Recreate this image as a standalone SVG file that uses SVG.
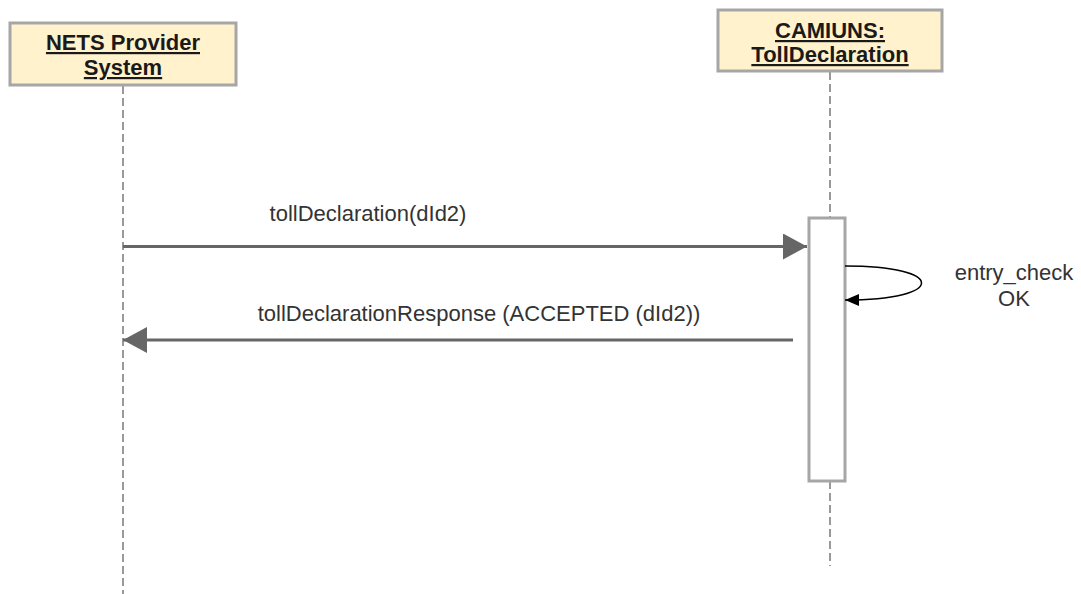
<svg xmlns="http://www.w3.org/2000/svg" width="1081" height="594" viewBox="0 0 1081 594">
  <defs>
    <style>
      .box { fill: #FFF2CC; stroke: #A6A6A6; stroke-width: 3; }
      .title { font-family: "Liberation Sans", Arial, sans-serif; font-size: 22px; font-weight: bold; fill: #1a1a1a; text-anchor: middle; text-decoration: underline; }
      .life { stroke: #999999; stroke-width: 2; stroke-dasharray: 8 4; fill: none; }
      .act { fill: #FFFFFF; stroke: #A6A6A6; stroke-width: 3; }
      .msg { stroke: #666666; stroke-width: 3; fill: none; }
      .lbl { font-family: "Liberation Sans", Arial, sans-serif; font-size: 22px; fill: #333333; text-anchor: middle; }
    </style>
    <marker id="tri" markerWidth="24" markerHeight="26" refX="24" refY="13" orient="auto" markerUnits="userSpaceOnUse">
      <path d="M0,0 L24,13 L0,26 Z" fill="#666666"/>
    </marker>
    <marker id="small" markerWidth="14" markerHeight="12" refX="14" refY="6" orient="auto" markerUnits="userSpaceOnUse">
      <path d="M0,0 L14,6 L0,12 Z" fill="#000000"/>
    </marker>
  </defs>

  <g id="lifelines">
    <line class="life" x1="123" y1="86" x2="123" y2="594"/>
    <line class="life" x1="830" y1="72" x2="830" y2="218"/>
    <line class="life" x1="830" y1="481" x2="830" y2="566"/>
  </g>

  <g id="nets-provider">
    <rect class="box" x="10" y="23" width="226" height="62"/>
    <text class="title" x="123" y="50">NETS Provider</text>
    <text class="title" x="123" y="75">System</text>
  </g>

  <g id="camiuns">
    <rect class="box" x="718" y="10" width="224" height="61"/>
    <text class="title" x="830" y="38">CAMIUNS:</text>
    <text class="title" x="830" y="62">TollDeclaration</text>
  </g>

  <g id="activation">
    <rect class="act" x="809" y="218" width="36" height="263"/>
  </g>

  <g id="connectors">
    <line class="msg" x1="123" y1="246.5" x2="807" y2="246.5" marker-end="url(#tri)"/>
    <line class="msg" x1="793" y1="340" x2="123" y2="340" marker-end="url(#tri)"/>
    <path d="M845,266 C947,266 947,300 845,300" fill="none" stroke="#000000" stroke-width="1.5" marker-end="url(#small)"/>
  </g>

  <g id="labels">
    <text class="lbl" x="368" y="221">tollDeclaration(dId2)</text>
    <text class="lbl" x="479" y="321">tollDeclarationResponse (ACCEPTED (dId2))</text>
    <text class="lbl" x="1014" y="280">entry_check</text>
    <text class="lbl" x="1014" y="306">OK</text>
  </g>
</svg>
